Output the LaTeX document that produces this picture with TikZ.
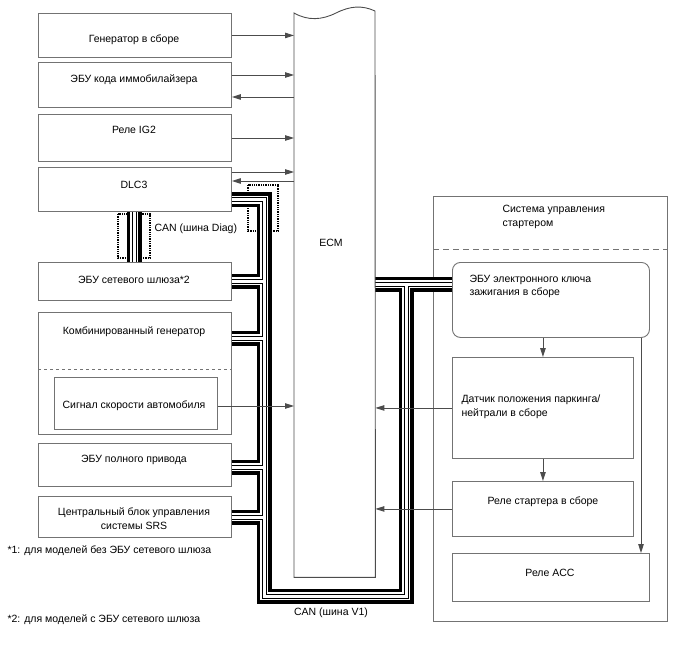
\documentclass[tikz,border=0pt]{standalone}
\usepackage{fontspec}
\setmainfont{Liberation Sans}
\usetikzlibrary{arrows.meta}

\begin{document}
\begin{tikzpicture}[x=1pt,y=-1pt,
  every node/.style={font=\fontsize{10.5}{13.5}\selectfont},
  blk/.style={draw=black!55,line width=0.9pt,anchor=north west,inner sep=0pt},
  sig/.style={draw=black!70,line width=0.9pt},
  shield/.style={densely dotted,line width=1.3pt},
  >={Triangle[length=9pt,width=5.5pt]}]
\useasboundingbox (0,0) rectangle (688,658);

\node[blk,minimum width=193pt,minimum height=44pt] (gen) at (38,13) {};
\node[blk,minimum width=193pt,minimum height=45pt] (imm) at (38,62) {};
\node[blk,minimum width=193pt,minimum height=47pt] (ig) at (38,114) {};
\node[blk,minimum width=193pt,minimum height=44pt] (dlc) at (38,167) {};
\node[blk,minimum width=193pt,minimum height=38pt] (gw) at (38,262) {};
\node[blk,minimum width=193pt,minimum height=122pt] (comb) at (38,312) {};
\node[blk,minimum width=163pt,minimum height=52pt] (spd) at (54,377) {};
\node[blk,minimum width=193pt,minimum height=43pt] (awd) at (38,443) {};
\node[blk,minimum width=193pt,minimum height=41pt] (srs) at (38,496) {};
\node[inner sep=0pt,minimum width=81pt,minimum height=564pt,anchor=north west] (ecm) at (294,13) {};
\node[blk,minimum width=234pt,minimum height=425pt] (sys) at (433,196) {};
\node[blk,rounded corners=8pt,minimum width=197pt,minimum height=75pt] (key) at (452,262) {};
\node[blk,minimum width=181pt,minimum height=101pt] (dat) at (452,357) {};
\node[blk,minimum width=181pt,minimum height=55pt] (st) at (452,481) {};
\node[blk,minimum width=197pt,minimum height=48pt] (acc) at (452,553) {};
\coordinate (busl) at (264,596);
\coordinate (busr) at (406,596);

\draw[shield] (118,214) rectangle (150,258);
\draw[shield] (248,185) rectangle (278,231);
\foreach \w/\c in {15/black,8/white,5/black,3/white}
  \draw[\c,line width=\w pt] (dlc.east |- 0,199.5) -- (busl |- 0,199.5) -- (busl) -- (busr) -- (busr |- 0,284)
    (ecm.east |- 0,284) -- (key.west |- 0,284)
    (gw.east |- 0,281) -- (busl |- 0,281)
    (comb.east |- 0,338) -- (busl |- 0,338)
    (awd.east |- 0,467) -- (busl |- 0,467)
    (srs.east |- 0,517) -- (busl |- 0,517)
    (dlc.south -| 134,0) -- (gw.north -| 134,0);

\draw[black!55,dashed,line width=0.9pt] (comb.west |- 0,369) -- (comb.east |- 0,369);
\draw[black!55,dash pattern=on 6pt off 4pt,line width=0.9pt] (sys.west |- 0,249) -- (sys.east |- 0,249);
\draw[sig] (ecm.north west) .. controls (308,21) and (322,20) .. (336,13) .. controls (350,6) and (362,5) .. (375,11) -- (ecm.south east) -- (ecm.south west) -- cycle;

\node at (134,40) {Генератор в сборе};
\node at (134,80) {ЭБУ кода иммобилайзера};
\node at (134,130) {Реле IG2};
\node at (134,185) {DLC3};
\node at (134,280) {ЭБУ сетевого шлюза*2};
\node at (134,332) {Комбинированный генератор};
\node at (134,406) {Сигнал скорости автомобиля};
\node at (134,460) {ЭБУ полного привода};
\node[align=center] at (134,518.5) {Центральный блок управления\\системы SRS};
\node at (331,243) {ECM};
\node[anchor=west] at (151,229) {CAN (шина Diag)};
\node at (331,613) {CAN (шина V1)};
\node[anchor=west] at (4,551) {*1: для моделей без ЭБУ сетевого шлюза};
\node[anchor=west] at (4,620) {*2: для моделей с ЭБУ сетевого шлюза};
\node[anchor=west,align=left] at (499,217) {Система управления\\стартером};
\node[anchor=west,align=left] at (466,286.5) {ЭБУ электронного ключа\\зажигания в сборе};
\node[anchor=west,align=left] at (458,407) {Датчик положения паркинга/\\нейтрали в сборе};
\node at (543,502) {Реле стартера в сборе};
\node at (550,573) {Реле ACC};

\draw[sig,->] (gen.east) -- (gen.east -| ecm.west);
\draw[sig,->] (imm.east |- 0,75) -- (ecm.west |- 0,75);
\draw[sig,<-] (imm.east |- 0,97) -- (ecm.west |- 0,97);
\draw[sig,->] (ig.east |- 0,138) -- (ecm.west |- 0,138);
\draw[sig,->] (dlc.east |- 0,172) -- (ecm.west |- 0,172);
\draw[sig,<-] (dlc.east |- 0,181) -- (ecm.west |- 0,181);
\draw[sig,->] (spd.east |- 0,406) -- (ecm.west |- 0,406);
\draw[sig,->] (dat.west) -- (dat.west -| ecm.east);
\draw[sig,->] (st.west) -- (st.west -| ecm.east);
\draw[sig,->] (key.south -| dat.north) -- (dat.north);
\draw[sig,->] (dat.south) -- (st.north);
\draw[sig,->] (key.south -| 641,0) -- (acc.north -| 641,0);
\end{tikzpicture}
\end{document}
